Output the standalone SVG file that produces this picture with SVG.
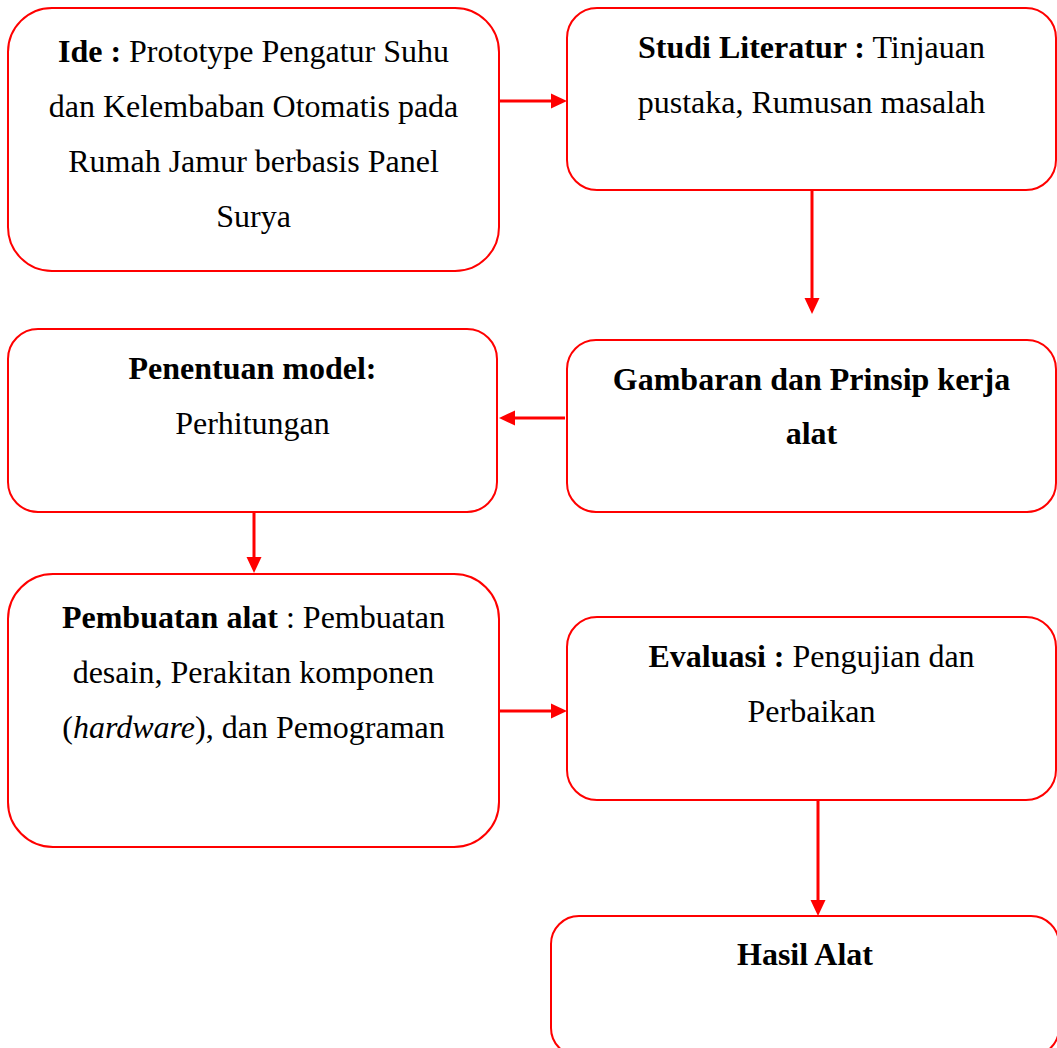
<svg xmlns="http://www.w3.org/2000/svg" width="1057" height="1048" viewBox="0 0 1057 1048">
  <style>
    .box { fill: #FFFFFF; stroke: #FF0000; stroke-width: 2; }
    .conn { stroke: #FF0000; stroke-width: 3; fill: none; }
    text { font-family: "Liberation Serif", "Times New Roman", serif; font-size: 32px; fill: #000000; text-anchor: middle; }
    .b { font-weight: bold; }
    .i { font-style: italic; }
  </style>
  <defs>
    <marker id="arrow" markerUnits="userSpaceOnUse" markerWidth="17" markerHeight="16" refX="0" refY="8" orient="auto">
      <path d="M0,0.5 L16,8 L0,15.5 Z" fill="#FF0000"/>
    </marker>
  </defs>
  <rect width="1057" height="1048" fill="#FFFFFF"/>

  <g id="connectors">
    <line class="conn" x1="499" y1="101" x2="551" y2="101" marker-end="url(#arrow)"/>
    <line class="conn" x1="812" y1="190" x2="812" y2="298" marker-end="url(#arrow)"/>
    <line class="conn" x1="565" y1="418" x2="515" y2="418" marker-end="url(#arrow)"/>
    <line class="conn" x1="254" y1="512" x2="254" y2="557" marker-end="url(#arrow)"/>
    <line class="conn" x1="499" y1="711" x2="551" y2="711" marker-end="url(#arrow)"/>
    <line class="conn" x1="818" y1="800" x2="818" y2="900" marker-end="url(#arrow)"/>
  </g>

  <g id="node-ide">
    <rect class="box" x="8" y="8" width="491" height="263" rx="44" ry="44"/>
    <text x="253.5" y="62"><tspan class="b">Ide :</tspan> Prototype Pengatur Suhu</text>
    <text x="253.5" y="117">dan Kelembaban Otomatis pada</text>
    <text x="253.5" y="172">Rumah Jamur berbasis Panel</text>
    <text x="253.5" y="227">Surya</text>
  </g>

  <g id="node-studi">
    <rect class="box" x="567" y="8" width="489" height="182" rx="30" ry="30"/>
    <text x="811.5" y="58"><tspan class="b">Studi Literatur :</tspan> Tinjauan</text>
    <text x="811.5" y="113">pustaka, Rumusan masalah</text>
  </g>

  <g id="node-gambaran">
    <rect class="box" x="567" y="340" width="489" height="172" rx="29" ry="29"/>
    <text class="b" x="811.5" y="390">Gambaran dan Prinsip kerja</text>
    <text class="b" x="811.5" y="444">alat</text>
  </g>

  <g id="node-penentuan">
    <rect class="box" x="8" y="329" width="489" height="183" rx="30" ry="30"/>
    <text class="b" x="252.5" y="379">Penentuan model:</text>
    <text x="252.5" y="434">Perhitungan</text>
  </g>

  <g id="node-pembuatan">
    <rect class="box" x="8" y="574" width="491" height="273" rx="45" ry="45"/>
    <text x="253.5" y="628"><tspan class="b">Pembuatan alat</tspan> : Pembuatan</text>
    <text x="253.5" y="683">desain, Perakitan komponen</text>
    <text x="253.5" y="738">(<tspan class="i">hardware</tspan>), dan Pemograman</text>
  </g>

  <g id="node-evaluasi">
    <rect class="box" x="567" y="617" width="489" height="183" rx="30" ry="30"/>
    <text x="811.5" y="667"><tspan class="b">Evaluasi :</tspan> Pengujian dan</text>
    <text x="811.5" y="722">Perbaikan</text>
  </g>

  <g id="node-hasil">
    <rect class="box" x="551" y="916" width="508" height="140" rx="28" ry="28"/>
    <text class="b" x="805" y="965">Hasil Alat</text>
  </g>
</svg>
